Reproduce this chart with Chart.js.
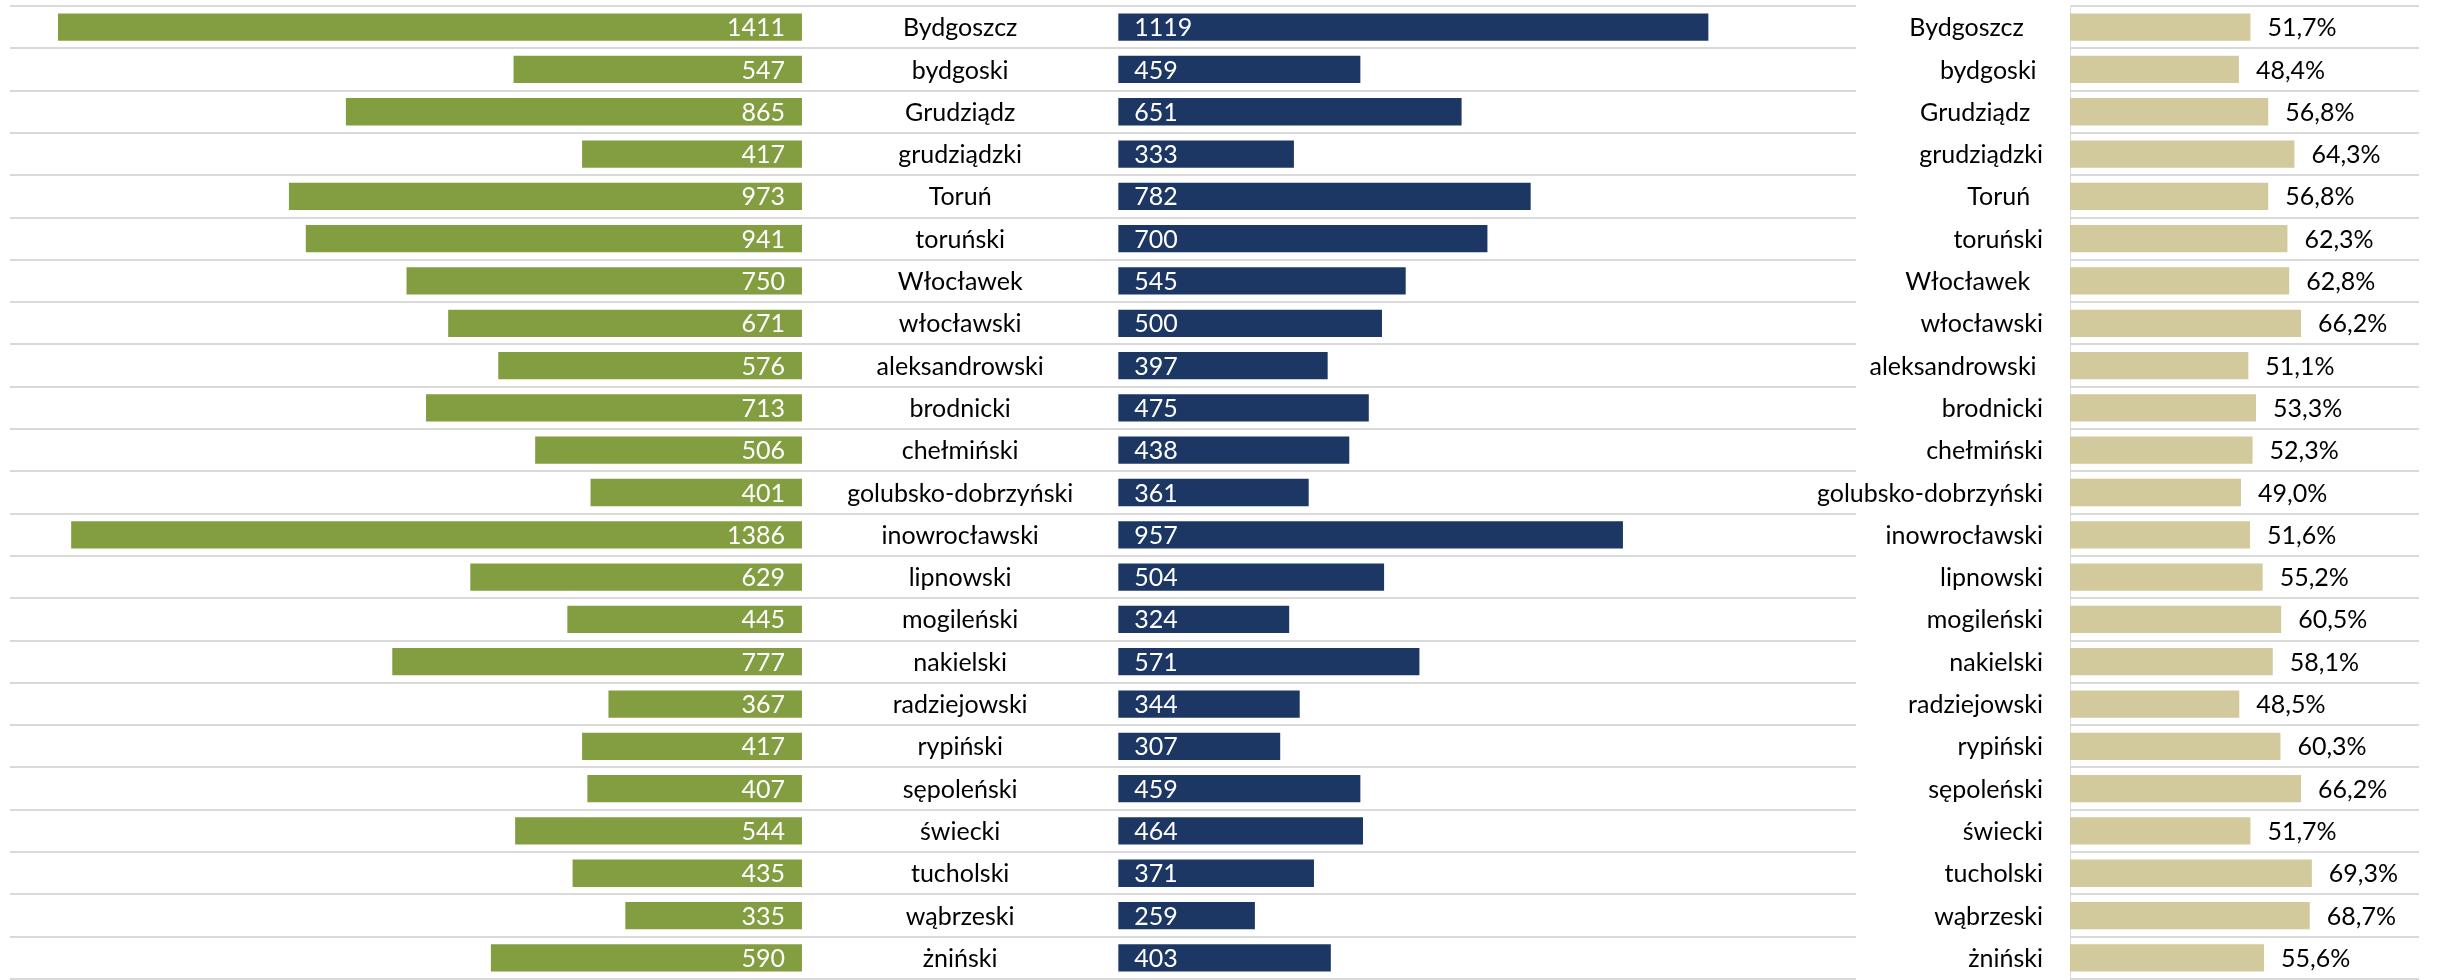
<!DOCTYPE html>
<html><head><meta charset="utf-8">
<script src="https://cdn.jsdelivr.net/npm/chart.js@4.4.0/dist/chart.umd.min.js"></script>
<style>
html,body{margin:0;padding:0;background:#fff;width:2437px;height:980px;overflow:hidden}
#a{position:absolute;left:0;top:0}
#b{position:absolute;left:1760px;top:0}
</style></head><body>
<canvas id="a" width="1870" height="980"></canvas>
<canvas id="b" width="677" height="980"></canvas>
<script>
const categories = ["Bydgoszcz","bydgoski","Grudziądz","grudziądzki","Toruń","toruński","Włocławek","włocławski","aleksandrowski","brodnicki","chełmiński","golubsko-dobrzyński","inowrocławski","lipnowski","mogileński","nakielski","radziejowski","rypiński","sępoleński","świecki","tucholski","wąbrzeski","żniński"];
const rightLabels = ["Bydgoszcz   ","bydgoski ","Grudziądz  ","grudziądzki","Toruń  ","toruński","Włocławek  ","włocławski","aleksandrowski ","brodnicki","chełmiński","golubsko-dobrzyński","inowrocławski","lipnowski","mogileński","nakielski","radziejowski","rypiński","sępoleński","świecki","tucholski","wąbrzeski","żniński"];
const seriesGreen = [1411,547,865,417,973,941,750,671,576,713,506,401,1386,629,445,777,367,417,407,544,435,335,590];
const seriesBlue = [1119,459,651,333,782,700,545,500,397,475,438,361,957,504,324,571,344,307,459,464,371,259,403];
const sharePct = [51.7,48.4,56.8,64.3,56.8,62.3,62.8,66.2,51.1,53.3,52.3,49.0,51.6,55.2,60.5,58.1,48.5,60.3,66.2,51.7,69.3,68.7,55.6];

const GREEN = '#839E41', BLUE = '#1C3764', TAN = '#D2C99C', GRID = '#D9D9D9';
const FONT = 'Lato, "Open Sans", sans-serif';
const FSIZE = 25;
const GAP = 600; // horizontal gap (axis units) between the two mirrored bar groups

const labelsA = {
  id: 'labelsA',
  afterDatasetsDraw(chart) {
    const {ctx, scales: {x, y}} = chart;
    ctx.save();
    ctx.font = FSIZE + 'px ' + FONT;
    ctx.textBaseline = 'middle';
    const x0 = x.getPixelForValue(0), xg = x.getPixelForValue(GAP), xc = x.getPixelForValue(GAP / 2);
    categories.forEach((c, i) => {
      const yy = y.getPixelForValue(i) + 1;
      ctx.fillStyle = '#fff';
      ctx.textAlign = 'right';
      ctx.fillText(String(seriesGreen[i]), x0 - 17, yy);
      ctx.textAlign = 'left';
      ctx.fillText(String(seriesBlue[i]), xg + 16, yy);
      ctx.fillStyle = '#000';
      ctx.textAlign = 'center';
      ctx.fillText(c, xc, yy);
    });
    ctx.restore();
  }
};

const labelsB = {
  id: 'labelsB',
  afterDatasetsDraw(chart) {
    const {ctx, chartArea, scales: {x, y}} = chart;
    ctx.save();
    ctx.font = FSIZE + 'px ' + FONT;
    ctx.textBaseline = 'middle';
    ctx.fillStyle = '#000';
    sharePct.forEach((v, i) => {
      const yy = y.getPixelForValue(i) + 1;
      ctx.textAlign = 'right';
      ctx.fillText(rightLabels[i], chartArea.left - 27, yy);
      ctx.textAlign = 'left';
      ctx.fillText(v.toFixed(1).replace('.', ',') + '%', x.getPixelForValue(v) + 17, yy);
    });
    ctx.restore();
  }
};

const barOpts = {grouped: false, barPercentage: 0.645, categoryPercentage: 1, borderWidth: 0};

new Chart(document.getElementById('a'), {
  type: 'bar',
  data: {
    labels: categories,
    datasets: [
      Object.assign({data: seriesGreen.map(v => [-v, 0]), backgroundColor: GREEN}, barOpts),
      Object.assign({data: seriesBlue.map(v => [GAP, GAP + v]), backgroundColor: BLUE}, barOpts)
    ]
  },
  options: {
    indexAxis: 'y', responsive: false, animation: false, devicePixelRatio: 1,
    layout: {padding: {left: 10, right: 14, top: 6, bottom: 1}},
    plugins: {legend: {display: false}, tooltip: {enabled: false}},
    scales: {
      x: {display: false, min: -1502, max: 1999},
      y: {display: true, ticks: {display: false}, grid: {color: GRID, lineWidth: 2, drawTicks: false, offset: true}, border: {display: false}}
    }
  },
  plugins: [labelsA]
});

new Chart(document.getElementById('b'), {
  type: 'bar',
  data: {
    labels: categories,
    datasets: [Object.assign({data: sharePct, backgroundColor: TAN}, barOpts)]
  },
  options: {
    indexAxis: 'y', responsive: false, animation: false, devicePixelRatio: 1,
    layout: {padding: {left: 310, right: 18, top: 6, bottom: 1}},
    plugins: {legend: {display: false}, tooltip: {enabled: false}},
    scales: {
      x: {display: false, min: 0, max: 100},
      y: {
        display: true,
        ticks: {display: false},
        grid: {color: GRID, lineWidth: 2, drawTicks: false, offset: true},
        border: {display: true, color: GRID, width: 1}
      }
    }
  },
  plugins: [labelsB]
});
</script>
</body></html>
